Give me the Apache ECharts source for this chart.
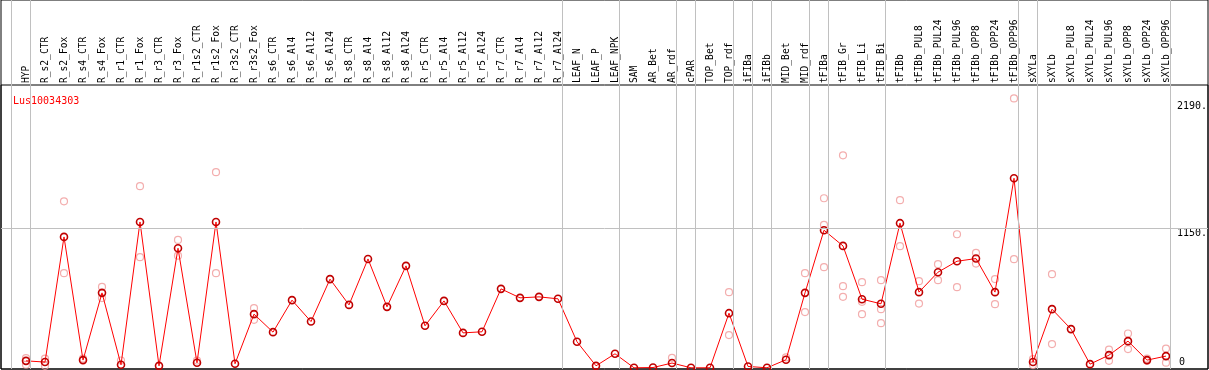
<!DOCTYPE html>
<html>
<head>
<meta charset="utf-8">
<script src="https://cdn.jsdelivr.net/npm/echarts@6/dist/echarts.min.js"></script>
<style>
  html, body { margin: 0; padding: 0; background: #fff; }
  #chart { width: 1209px; height: 370px; }
</style>
</head>
<body>
<div id="chart"></div>
<script>
var categories = ['HYP', 'R_s2_CTR', 'R_s2_Fox', 'R_s4_CTR', 'R_s4_Fox', 'R_r1_CTR', 'R_r1_Fox',
    'R_r3_CTR', 'R_r3_Fox', 'R_r1s2_CTR', 'R_r1s2_Fox', 'R_r3s2_CTR', 'R_r3s2_Fox',
    'R_s6_CTR', 'R_s6_Al4', 'R_s6_Al12', 'R_s6_Al24', 'R_s8_CTR', 'R_s8_Al4', 'R_s8_Al12', 'R_s8_Al24',
    'R_r5_CTR', 'R_r5_Al4', 'R_r5_Al12', 'R_r5_Al24', 'R_r7_CTR', 'R_r7_Al4', 'R_r7_Al12', 'R_r7_Al24',
    'LEAF_N', 'LEAF_P', 'LEAF_NPK', 'SAM', 'AR_Bet', 'AR_rdf', 'cPAR', 'TOP_Bet', 'TOP_rdf',
    'iFIBa', 'iFIBb', 'MID_Bet', 'MID_rdf', 'tFIBa', 'tFIB_Gr', 'tFIB_Li', 'tFIB_Bi', 'tFIBb',
    'tFIBb_PUL8', 'tFIBb_PUL24', 'tFIBb_PUL96', 'tFIBb_OPP8', 'tFIBb_OPP24', 'tFIBb_OPP96',
    'sXYLa', 'sXYLb', 'sXYLb_PUL8', 'sXYLb_PUL24', 'sXYLb_PUL96', 'sXYLb_OPP8', 'sXYLb_OPP24', 'sXYLb_OPP96'];

// mean expression per sample
var meanValues = [57, 47, 1076, 63, 616, 25, 1199, 16, 983, 41, 1199, 33, 441,
    293, 556, 380, 729, 517, 895, 501, 838, 345, 550, 287, 296, 649, 575, 583, 567,
    214, 16, 115, 0, 2, 39, 0, 0, 449, 11, 0, 66, 616, 1131, 1002, 564, 526, 1189,
    622, 786, 876, 898, 622, 1558, 47, 482, 318, 30, 104, 219, 63, 96];

// individual replicates (null = not shown)
var rep1 = [80, 76, 1369, 76, 665, 60, 1493, null, 1051, 60, 1608, null, 490,
    null, null, null, null, null, null, null, null, null, null, null, null, null, null, null, null,
    null, null, null, null, null, 82, null, null, 622, null, null, 85, 778, 1394, 1747, 704, 720, 1378,
    712, 852, 1098, 945, 729, 2215, 71, 770, null, null, 150, 282, 76, 158];
var rep2 = [25, 16, 778, null, 573, null, 909, null, 922, null, 778, null, 394,
    null, null, null, null, null, null, null, null, null, null, null, null, null, null, null, null,
    null, null, null, null, null, null, null, null, 269, null, null, null, 458, 1175, 671, 542, 482, 1000,
    528, 720, 663, 857, 523, 893, 22, 195, null, null, 57, 154, 57, 42];
var rep3 = [null, null, null, null, null, null, null, null, null, null, null, null, null,
    null, null, null, null, null, null, null, null, null, null, null, null, null, null, null, null,
    null, null, null, null, null, null, null, null, null, null, null, null, null, 827, 583, 441, 367, null,
    null, null, null, null, null, null, null, null, null, null, null, null, null, null];

// number of samples in each tissue group (grey separators between them)
var groupSizes = [1, 28, 3, 3, 1, 2, 1, 1, 2, 1, 3, 7, 1, 7];
var yTicks = [0, 1150, 2190];
var geneName = 'Lus10034303';

var boundaries = [-1];
var acc = -1;
groupSizes.forEach(function (n) {
    acc += n;
    boundaries.push(acc);
});
var sepLines = boundaries.map(function (b) {
    return { xAxis: b + 4 / 19 };
});

var mono = 'DejaVu Sans Mono';
var yMin = -10, yMax = 2325;

var chart = echarts.init(document.getElementById('chart'));
var option = {
    animation: false,
    title: {
        text: geneName,
        left: 8,
        top: 91,
        textStyle: { color: '#ff0000', fontSize: 10, fontWeight: 'normal', fontFamily: mono }
    },
    grid: [
        { left: 16.5, width: 1159, top: 85, bottom: 1, outerBoundsMode: 'none' },
        { left: 1, right: 1, top: 0, bottom: 1, show: true, borderColor: '#000', borderWidth: 1, outerBoundsMode: 'none' },
        { left: 1, right: 1, top: 85, bottom: 1, show: true, borderColor: '#000', borderWidth: 1, outerBoundsMode: 'none' }
    ],
    xAxis: [
        {
            type: 'category', gridIndex: 0, position: 'top', data: categories,
            axisLine: { show: false }, axisTick: { show: false }, splitLine: { show: false },
            axisLabel: { rotate: 90, interval: 0, margin: 2, fontSize: 9.6, fontFamily: mono, color: '#000' }
        },
        { type: 'value', gridIndex: 1, min: -25 / 19, max: 1182 / 19, show: false },
        { type: 'value', gridIndex: 2, min: 0, max: 1, show: false }
    ],
    yAxis: [
        { type: 'value', gridIndex: 0, min: yMin, max: yMax, show: false },
        { type: 'value', gridIndex: 1, min: 0, max: 1, show: false },
        {
            type: 'value', gridIndex: 2, min: yMin, max: yMax, interval: 10, position: 'right',
            axisLine: { show: false }, axisTick: { show: false }, splitLine: { show: false },
            axisLabel: {
                inside: true, margin: 1, verticalAlign: 'top', fontSize: 10, fontFamily: mono, color: '#000',
                formatter: function (v) {
                    return (v !== 0 && yTicks.indexOf(v) >= 0) ? v + '.' : '';
                }
            }
        },
        {
            type: 'value', gridIndex: 2, min: yMin, max: yMax, interval: 10, position: 'right',
            axisLine: { show: false }, axisTick: { show: false }, splitLine: { show: false },
            axisLabel: {
                inside: true, margin: 23, verticalAlign: 'bottom', fontSize: 10, fontFamily: mono, color: '#000',
                formatter: function (v) {
                    return v === 0 ? '0' : '';
                }
            }
        }
    ],
    series: [
        {
            type: 'line', xAxisIndex: 1, yAxisIndex: 1, data: [], silent: true,
            markLine: {
                silent: true, symbol: 'none', label: { show: false },
                lineStyle: { color: '#c0c0c0', width: 1, type: 'solid' },
                data: sepLines
            }
        },
        {
            type: 'line', xAxisIndex: 2, yAxisIndex: 2, data: [], silent: true,
            markLine: {
                silent: true, symbol: 'none', label: { show: false },
                lineStyle: { color: '#c0c0c0', width: 1, type: 'solid' },
                data: [{ yAxis: 1150 }]
            }
        },
        {
            type: 'scatter', xAxisIndex: 0, yAxisIndex: 0, data: rep1,
            symbol: 'circle', symbolSize: 7,
            itemStyle: { color: 'rgba(0,0,0,0)', borderColor: '#f09a9a', borderWidth: 1.2 }
        },
        {
            type: 'scatter', xAxisIndex: 0, yAxisIndex: 0, data: rep2,
            symbol: 'circle', symbolSize: 7,
            itemStyle: { color: 'rgba(0,0,0,0)', borderColor: '#f09a9a', borderWidth: 1.2 }
        },
        {
            type: 'scatter', xAxisIndex: 0, yAxisIndex: 0, data: rep3,
            symbol: 'circle', symbolSize: 7,
            itemStyle: { color: 'rgba(0,0,0,0)', borderColor: '#f09a9a', borderWidth: 1.2 }
        },
        {
            type: 'line', xAxisIndex: 0, yAxisIndex: 0, data: meanValues,
            symbol: 'circle', symbolSize: 7, showAllSymbol: true, clip: false,
            lineStyle: { color: '#ff0000', width: 1 },
            itemStyle: { color: 'rgba(0,0,0,0)', borderColor: '#c00000', borderWidth: 1.6 }
        }
    ]
};
chart.setOption(option);
</script>
</body>
</html>
